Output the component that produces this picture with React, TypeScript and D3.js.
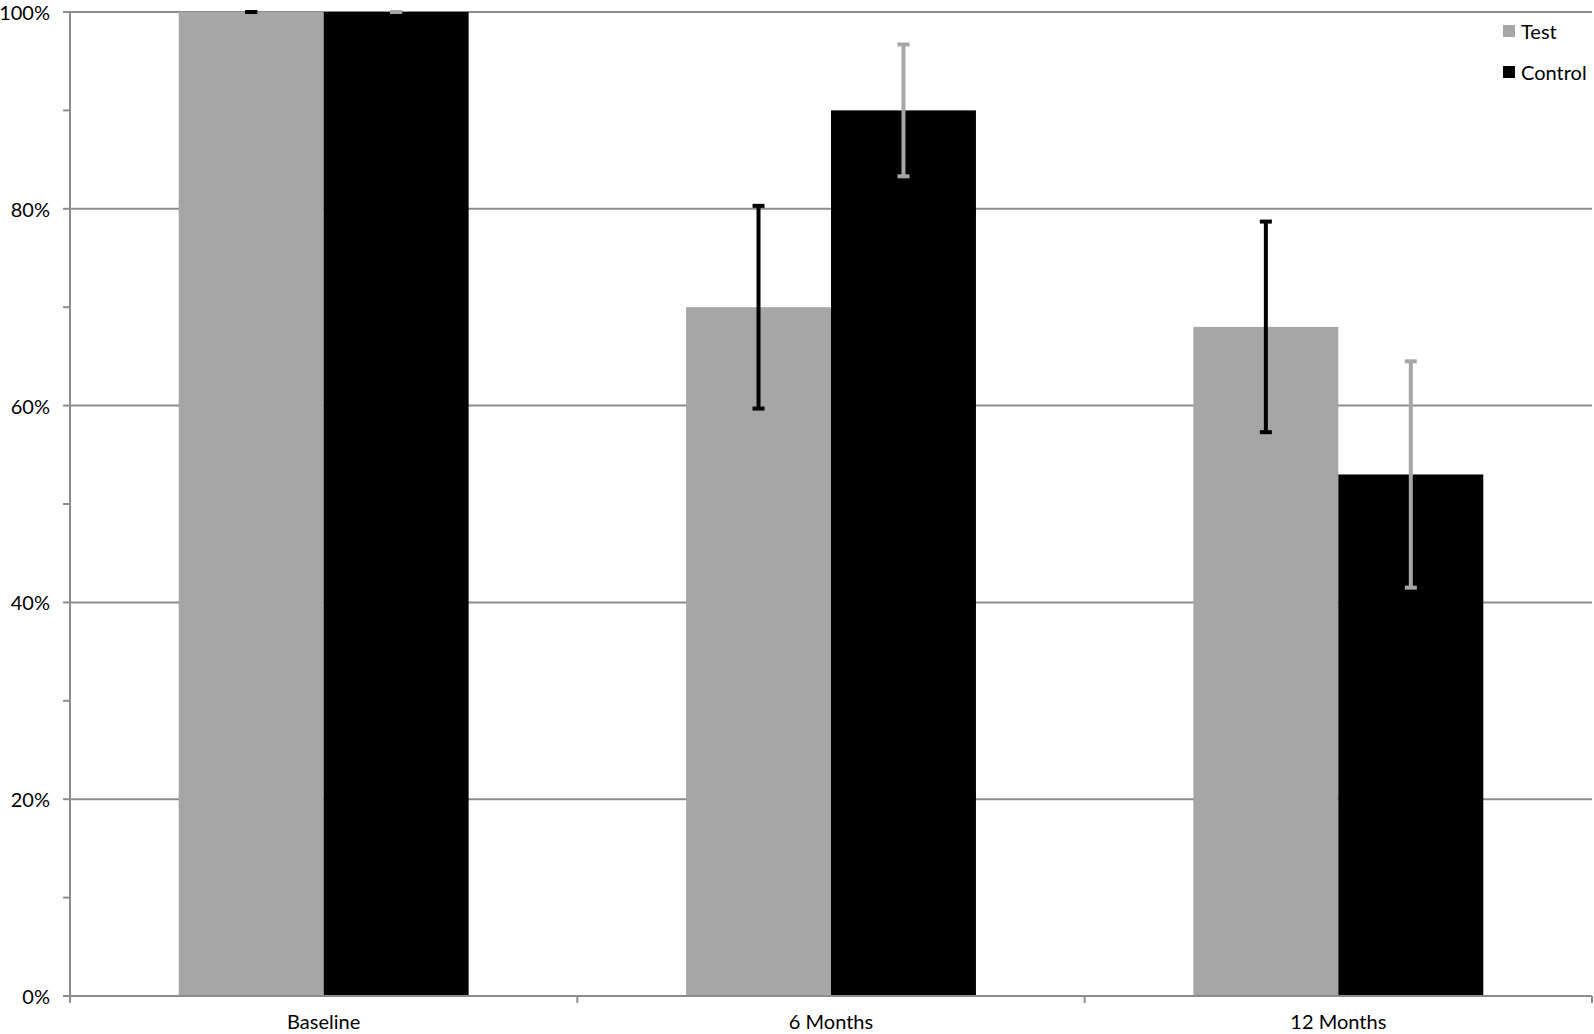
import React from "react";
import { scaleBand, scaleLinear, range } from "d3";

const categories = ["Baseline", "6 Months", "12 Months"];
const seriesNames = ["Test", "Control"];
const testValues = [100, 70, 68];
const controlValues = [100, 90, 53];
const testErrors = [0, 10.3, 10.7];
const controlErrors = [0, 6.7, 11.5];
const yTicks = [0, 20, 40, 60, 80, 100];

const width = 1594;
const height = 1034;
const margin = { top: 12, right: 2, bottom: 38, left: 70 };
const font = "Lato, 'DejaVu Sans', sans-serif";

const barColors = ["#a6a6a6", "#000000"];
const errColors = ["#000000", "#a6a6a6"];
const gridColor = "#8c8c8c";

const App = () => {
  const plotRight = width - margin.right;
  const plotBottom = height - margin.bottom;

  const x = scaleBand().domain(categories).range([margin.left, plotRight]);
  const x1 = scaleBand()
    .domain(seriesNames)
    .range([0, x.bandwidth()])
    .paddingInner(0)
    .paddingOuter(0.75);
  const y = scaleLinear().domain([0, 100]).range([plotBottom, margin.top]);

  const series = [
    { name: "Test", values: testValues, errors: testErrors },
    { name: "Control", values: controlValues, errors: controlErrors },
  ];

  const minorTicks = range(0, 101, 10);
  const capHalf = 6;

  return (
    <svg
      width={width}
      height={height}
      style={{ position: "absolute", left: 0, top: 0, background: "#fff" }}
    >
      {/* gridlines */}
      {yTicks
        .filter((t) => t > 0)
        .map((t) => (
          <line
            key={"g" + t}
            x1={margin.left}
            x2={plotRight}
            y1={y(t)}
            y2={y(t)}
            stroke={gridColor}
            strokeWidth={2}
          />
        ))}

      {/* bars */}
      {series.map((s, si) =>
        categories.map((c, ci) => (
          <rect
            key={s.name + c}
            x={x(c)! + x1(s.name)!}
            y={y(s.values[ci])}
            width={x1.bandwidth()}
            height={plotBottom - y(s.values[ci])}
            fill={barColors[si]}
          />
        ))
      )}

      {/* error bars */}
      {series.map((s, si) =>
        categories.map((c, ci) => {
          const cx = x(c)! + x1(s.name)! + x1.bandwidth() / 2;
          const hi = y(s.values[ci] + s.errors[ci]);
          const lo = y(s.values[ci] - s.errors[ci]);
          return (
            <g key={"e" + s.name + c} stroke={errColors[si]} strokeWidth={4}>
              <line x1={cx} x2={cx} y1={hi} y2={lo} />
              <line x1={cx - capHalf} x2={cx + capHalf} y1={hi} y2={hi} />
              <line x1={cx - capHalf} x2={cx + capHalf} y1={lo} y2={lo} />
            </g>
          );
        })
      )}

      {/* y axis */}
      <line
        x1={margin.left}
        x2={margin.left}
        y1={margin.top}
        y2={plotBottom}
        stroke={gridColor}
        strokeWidth={2}
      />
      {minorTicks.map((t) => (
        <line
          key={"t" + t}
          x1={margin.left - 7}
          x2={margin.left}
          y1={y(t)}
          y2={y(t)}
          stroke={gridColor}
          strokeWidth={2}
        />
      ))}
      {yTicks.map((t) => (
        <text
          key={"l" + t}
          x={margin.left - 20}
          y={y(t)}
          textAnchor="end"
          dominantBaseline="central"
          fontFamily={font}
          fontSize={20}
          fill="#000"
        >
          {t + "%"}
        </text>
      ))}

      {/* x axis */}
      <line
        x1={margin.left}
        x2={plotRight}
        y1={plotBottom}
        y2={plotBottom}
        stroke={gridColor}
        strokeWidth={2}
      />
      {[...categories.map((c) => x(c)!), plotRight].map((px, i) => (
        <line
          key={"xt" + i}
          x1={px}
          x2={px}
          y1={plotBottom}
          y2={plotBottom + 7}
          stroke={gridColor}
          strokeWidth={2}
        />
      ))}
      {categories.map((c) => (
        <text
          key={"xl" + c}
          x={x(c)! + x.bandwidth() / 2}
          y={plotBottom + 25}
          textAnchor="middle"
          dominantBaseline="central"
          fontFamily={font}
          fontSize={20}
          fill="#000"
        >
          {c}
        </text>
      ))}

      {/* legend */}
      {seriesNames.map((n, i) => (
        <g key={"lg" + n} transform={`translate(1503, ${25 + i * 41})`}>
          <rect width={12} height={12} fill={barColors[i]} />
          <text
            x={18}
            y={6}
            dominantBaseline="central"
            fontFamily={font}
            fontSize={20}
            fill="#000"
          >
            {n}
          </text>
        </g>
      ))}
    </svg>
  );
};

export default App;
